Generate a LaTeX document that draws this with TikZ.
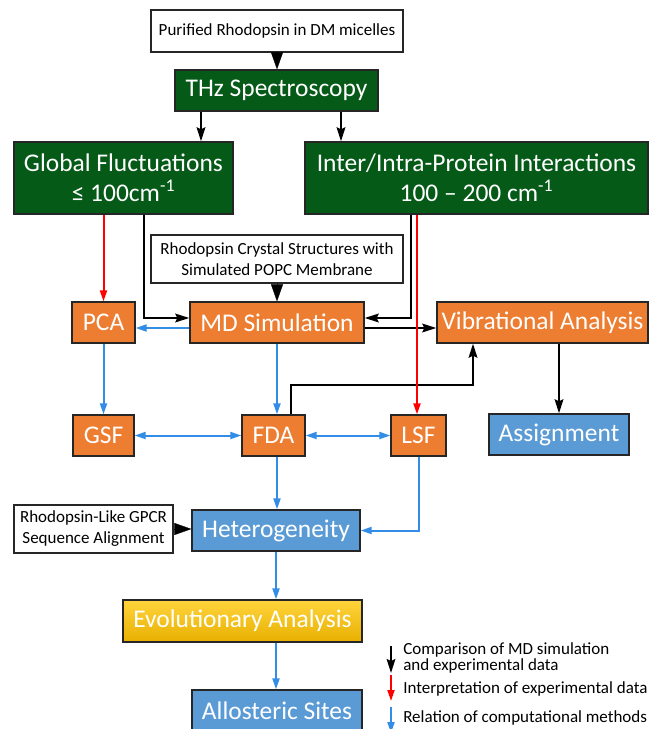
\documentclass[tikz,border=0pt]{standalone}
\usepackage{fontspec}
\setmainfont{Carlito}
\usetikzlibrary{arrows.meta}
\definecolor{thzgreen}{RGB}{6,90,24}
\definecolor{mdorange}{RGB}{237,125,49}
\definecolor{resblue}{RGB}{91,155,213}
\definecolor{linkblue}{RGB}{51,140,230}
\definecolor{evotop}{RGB}{255,212,60}
\definecolor{evobot}{RGB}{232,176,0}
\newcommand\boxfont{\fontsize{19.1}{22.5}\selectfont}
\newcommand\notefont{\fontsize{12.75}{15.75}\selectfont}
\newcommand\keyfont{\fontsize{12.75}{9.3}\selectfont}
\tikzset{
  every picture/.style={line join=miter, >=Triangle},
  basebox/.style={draw=black!85, line width=1pt, inner sep=0pt, align=center},
  greenbox/.style={basebox, fill=thzgreen, text=white, font=\boxfont},
  orangebox/.style={basebox, fill=mdorange, text=white, font=\boxfont},
  bluebox/.style={basebox, fill=resblue, text=white, font=\boxfont},
  goldbox/.style={basebox, top color=evotop, bottom color=evobot, text=white, font=\boxfont},
  notebox/.style={basebox, fill=white, font=\notefont},
  keytext/.style={anchor=west, inner sep=0pt, align=left, font=\keyfont},
  blkline/.style={line width=1.5pt, -{Stealth[length=10.5pt,width=6.5pt,inset=1.5pt]}},
  redline/.style={line width=1.5pt, red, -{Triangle[length=8.25pt,width=5.25pt]}},
  bluline/.style={line width=1.5pt, linkblue, -{Triangle[length=8.25pt,width=5.25pt]}},
  bluboth/.style={line width=1.5pt, linkblue, {Triangle[length=8.25pt,width=5.25pt]}-{Triangle[length=8.25pt,width=5.25pt]}},
  feed/.style={line width=0.2pt, -{Triangle[length=12.75pt,width=9pt]}},
}

\begin{document}
\begin{tikzpicture}[x=0.75pt,y=-0.75pt]
\useasboundingbox (0,0) rectangle (650,729);
% boxes
\node[notebox, minimum width=189pt, minimum height=31.5pt] (pur) at (277,31) {Purified Rhodopsin in DM micelles};
\node[greenbox, minimum width=152.25pt, minimum height=30.75pt] (thz) at (276.5,90.5) {THz Spectroscopy};
\node[greenbox, minimum width=164.25pt, minimum height=54pt] (glob) at (123.5,178) {Global Fluctuations\\≤ 100cm\textsuperscript{-1}};
\node[greenbox, minimum width=257.25pt, minimum height=54pt] (inter) at (476.5,178) {Inter/Intra-Protein Interactions\\100 -- 200 cm\textsuperscript{-1}};
\node[notebox, minimum width=189pt, minimum height=36pt] (crys) at (277,259) {Rhodopsin Crystal Structures with\\Simulated POPC Membrane};
\node[orangebox, minimum width=47.25pt, minimum height=30.75pt] (pca) at (103.5,322.5) {PCA};
\node[orangebox, minimum width=130.5pt, minimum height=30.75pt] (md) at (277,322.5) {MD Simulation};
\node[orangebox, minimum width=158.25pt, minimum height=30.75pt] (vib) at (542.5,322.5) {Vibrational Analysis};
\node[orangebox, minimum width=45.75pt, minimum height=30.75pt] (gsf) at (103.5,435.5) {GSF};
\node[orangebox, minimum width=47.25pt, minimum height=30.75pt] (fda) at (273.5,435.5) {FDA};
\node[orangebox, minimum width=41.25pt, minimum height=30.75pt] (lsf) at (418.5,435.5) {LSF};
\node[bluebox, minimum width=105pt, minimum height=30.75pt] (asg) at (559,434.5) {Assignment};
\node[notebox, minimum width=119.25pt, minimum height=36pt] (gpcr) at (93.5,529) {Rhodopsin-Like GPCR\\Sequence Alignment};
\node[bluebox, minimum width=126pt, minimum height=30.75pt] (het) at (276,530.5) {Heterogeneity};
\node[goldbox, minimum width=179.25pt, minimum height=31.5pt] (evo) at (242.5,621) {Evolutionary Analysis};
\node[bluebox, minimum width=127.5pt, minimum height=31.5pt] (allo) at (277,711) {Allosteric Sites};
% inputs
\draw[feed] (pur.south) -- (pur.south |- thz.north);
\draw[feed] (crys.south) -- (crys.south |- md.north);
\draw[feed] (gpcr.east) -- (het.west |- gpcr.east);
% comparison
\draw[blkline] (thz.south -| 201,0) -- (glob.north -| 201,0);
\draw[blkline] (thz.south -| 341,0) -- (inter.north -| 341,0);
\draw[blkline] (glob.south -| 144,0) |- (md.west |- 0,318);
\draw[blkline] (inter.south -| 411,0) |- (md.east |- 0,318);
\draw[blkline] (md.east |- 0,328) -- (vib.west |- 0,328);
\draw[blkline] (fda.north -| 291,0) |- (473,385) -- (vib.south -| 473,0);
\draw[blkline] (vib.south -| asg) -- (asg.north);
% interpretation
\draw[redline] (glob.south -| pca) -- (pca.north);
\draw[redline] (inter.south -| 417,0) -- (lsf.north -| 417,0);
% computational
\draw[bluline] (md.west |- 0,328) -- (pca.east |- 0,328);
\draw[bluline] (pca.south) -- (gsf.north);
\draw[bluline] (md.south) -- (md.south |- fda.north);
\draw[bluboth] (gsf.east) -- (fda.west);
\draw[bluboth] (fda.east) -- (lsf.west);
\draw[bluline] (fda.south -| md) -- (het.north -| md);
\draw[bluline] (lsf.south) |- (het.east);
\draw[bluline] (het.south) -- (het.south |- evo.north);
\draw[bluline] (het.south |- evo.south) -- (het.south |- allo.north);
% key
\coordinate (k1) at (391,646);
\coordinate (k2) at (391,675);
\coordinate (k3) at (391,707);
\draw[blkline] (k1) -- ++(0,27);
\draw[redline] (k2) -- ++(0,26);
\draw[bluline] (k3) -- ++(0,26);
\node[keytext] (key1) at (403,658) {Comparison of MD simulation\\and experimental data};
\node[keytext] (key2) at (403,689) {Interpretation of experimental data};
\node[keytext] (key3) at (403,718) {Relation of computational methods};
\end{tikzpicture}
\end{document}
